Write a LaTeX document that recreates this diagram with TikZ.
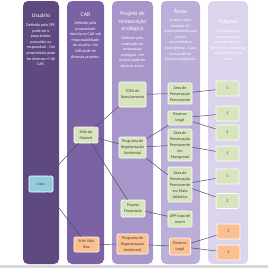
\documentclass[tikz,border=0pt]{standalone}
\usepackage{fontspec}
\setmainfont{Carlito}
\usetikzlibrary{positioning}

\definecolor{colusuario}{HTML}{5E4A80}
\definecolor{colcar}{HTML}{7A62A3}
\definecolor{colprojeto}{HTML}{A896CB}
\definecolor{colareas}{HTML}{BBAED9}
\definecolor{colpoligono}{HTML}{DCD4EC}
\definecolor{boxgreen}{HTML}{D7E4BD}
\definecolor{boxorange}{HTML}{FAC090}
\definecolor{boxblue}{HTML}{93CDDD}
\definecolor{linkgray}{HTML}{4E4E66}

\begin{document}
\begin{tikzpicture}[
    x=1pt, y=-1pt,
    every node/.style={align=center, inner sep=0pt, font=\fontsize{4}{5.6}\selectfont},
    colhead/.style={text=white, font=\fontsize{5.8}{7.5}\selectfont},
    coldesc/.style={text=white, anchor=north},
    box/.style={draw=white, line width=0.6pt, rounded corners=1.2pt, minimum width=24pt,
      text=black!75, font=\fontsize{4.1}{6}\selectfont},
    greenbox/.style={box, fill=boxgreen},
    orangebox/.style={box, fill=boxorange},
    bluebox/.style={box, fill=boxblue},
    polybox/.style={box, minimum width=23pt, minimum height=15pt},
    link/.style={draw=linkgray, line width=0.5pt},
  ]
  \useasboundingbox (0,0) rectangle (268,268);

  % columns
  \fill[colusuario, rounded corners=5pt] (23,1) rectangle (59,264);
  \fill[colcar, rounded corners=5pt] (67,1) rectangle (104,264);
  \fill[colprojeto, rounded corners=5pt] (112,1) rectangle (153,264);
  \fill[colareas, rounded corners=5pt] (161,1) rectangle (200,264);
  \fill[colpoligono, rounded corners=5pt] (208,1) rectangle (248,264);
  \fill[gray!30] (0,265) rectangle (268,268);

  % column titles
  \node[colhead] (tusuario) at (41,16) {Usuário};
  \node[coldesc] (dusuario) at (41,23.5) {Definido pelo CPF,\\pode ser o\\proprietário,\\possuidor ou\\responsável . Um\\proprietário pode\\ter diversos n° de\\CAR.};
  \node[colhead] (tcar) at (85.5,15) {CAR};
  \node[coldesc] (dcar) at (85.5,21.5) {Definido pela\\propriedade\\inscrita no CAR sob\\responsabilidade\\do usuário. Um\\CAR pode ter\\diversos projetos.};
  \node[colhead] (tprojeto) at (132.5,21.5) {Projeto de\\restauração\\ecológica};
  \node[coldesc] (dprojeto) at (132.5,36.5) {Definido pela\\motivação da\\restauração\\ecológica. Um\\projeto pode ter\\diversas áreas.};
  \node[colhead] (tareas) at (180.5,11) {Áreas};
  \node[coldesc] (dareas) at (180.5,18.5) {A área é uma\\unidade de\\monitoramento que\\possui\\características\\homogêneas. Cada\\área pode ter\\diversos polígonos.};
  \node[colhead] (tpoligono) at (228,22) {Polígono};
  \node[coldesc] (dpoligono) at (228,29.5) {O polígono é a\\representação\\espacial da área,\\devem ter as mesmas\\características da\\área.};

  % usuario and car
  \node[bluebox, minimum height=16pt] (joao) at (41,184) {João};
  \node[greenbox, minimum height=16pt] (manoel) at (86,135) {Sítio do\\Manoel};
  \node[orangebox, minimum width=25pt, minimum height=15pt] (vidaboa) at (86.5,244.5) {Sítio Vida\\Boa};

  % projetos
  \node[greenbox, minimum width=27pt, minimum height=25pt] (tcra) at (132.5,94.5) {TCRA de\\licenciamento};
  \node[greenbox, minimum width=27pt, minimum height=21pt] (prgverde) at (132.5,147.5) {Programa de\\Regularização\\Ambiental};
  \node[greenbox, minimum width=24pt, minimum height=17pt] (financiado) at (133,208.5) {Projeto\\Financiado};
  \node[orangebox, minimum width=31pt, minimum height=20pt] (prglaranja) at (132.5,244) {Programa de\\Regularização\\Ambiental};

  % areas
  \node[greenbox, minimum height=21pt] (app) at (180,93.5) {Área de\\Preservação\\Permanente};
  \node[greenbox, minimum height=14pt] (reserva) at (180,118) {Reserva\\Legal};
  \node[greenbox, minimum height=32pt] (mangue) at (180,145) {Área de\\Preservação\\Permanente\\em\\Manguezal};
  \node[greenbox, minimum height=35pt] (mata) at (180,184.5) {Área de\\Preservação\\Permanente\\em Mata\\Atlântica};
  \node[greenbox, minimum height=16pt] (topo) at (180,219) {APP topo de\\morro};
  \node[orangebox, minimum width=21pt, minimum height=17pt] (reservalar) at (180,246.5) {Reserva\\Legal};

  % poligonos
  \node[polybox, fill=boxgreen] (pa) at (227.5,88.5) {1};
  \node[polybox, fill=boxgreen] (pb) at (227.5,113.5) {1};
  \node[polybox, fill=boxgreen] (pc) at (227.5,132.5) {2};
  \node[polybox, fill=boxgreen] (pd) at (227.5,153.5) {1};
  \node[polybox, fill=boxgreen] (pe) at (227.5,176.5) {1};
  \node[polybox, fill=boxgreen] (pf) at (227.5,201) {2};
  \node[polybox, fill=boxorange] (pg) at (228.5,231.5) {1};
  \node[polybox, fill=boxorange] (ph) at (228.5,252.5) {2};

  % links
  \draw[link] (joao) -- (manoel);
  \draw[link] (joao) -- (vidaboa);
  \draw[link] (manoel) -- (tcra);
  \draw[link] (manoel) -- (prgverde);
  \draw[link] (manoel) -- (financiado);
  \draw[link] (vidaboa) -- (prglaranja);
  \draw[link] (tcra) -- (app);
  \draw[link] (prgverde) -- (reserva);
  \draw[link] (prgverde) -- (mangue);
  \draw[link] (prgverde) -- (mata);
  \draw[link] (financiado) -- (topo);
  \draw[link] (prglaranja) -- (reservalar);
  \draw[link] (app) -- (pa);
  \draw[link] (reserva) -- (pb);
  \draw[link] (reserva) -- (pc);
  \draw[link] (mangue) -- (pd);
  \draw[link] (mata) -- (pe);
  \draw[link] (mata) -- (pf);
  \draw[link] (reservalar) -- (pg);
  \draw[link] (reservalar) -- (ph);

\end{tikzpicture}
\end{document}
